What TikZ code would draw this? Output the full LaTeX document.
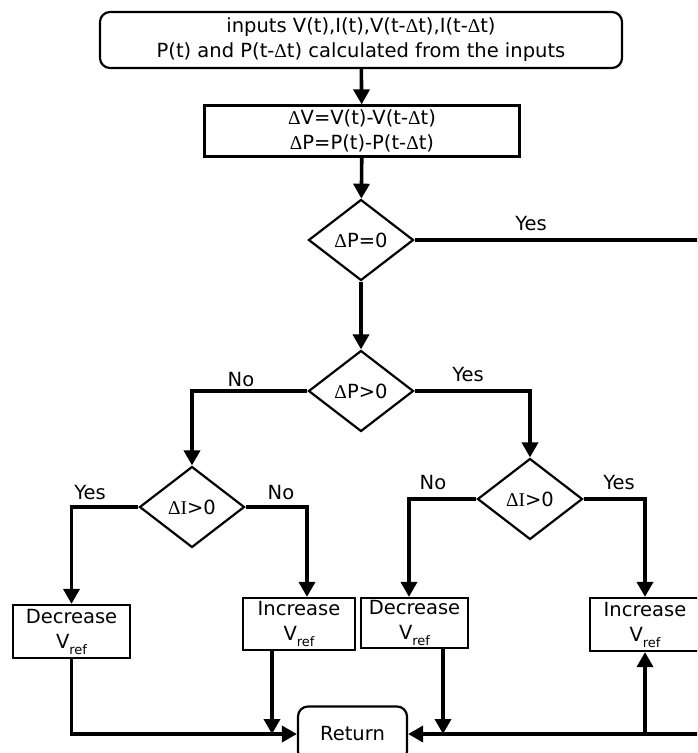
\documentclass[tikz,border=0pt]{standalone}
\usepackage{fontspec}
\setmainfont{DejaVu Sans}
\newfontfamily\seriffam{Liberation Serif}
\usetikzlibrary{shapes.geometric,arrows.meta}
\newcommand\Dlt{{\seriffam Δ}}
\newcommand\Vrefx{V\raisebox{-6pt}{\fontsize{13}{13}\selectfont ref}}
\begin{document}
\begin{tikzpicture}[x=1pt,y=-1pt,
  txt/.style={font=\fontsize{19.5}{25}\selectfont},
  box/.style={draw, line width=2.2pt, inner sep=0pt, align=center, txt},
  dia/.style={draw, diamond, line width=2.2pt, inner sep=0pt, minimum width=105pt, minimum height=81pt, txt},
  flow/.style={line width=3.6pt, -{Triangle[width=16pt,length=15pt]}},
  plain/.style={line width=3.6pt},
  lbl/.style={txt, inner sep=0pt}]
\useasboundingbox (0,0) rectangle (697,753);
\clip (0,0) rectangle (697,753);
\node[box, rounded corners=10pt, minimum width=522pt, minimum height=56pt] (in) at (361,40)
  {inputs V(t),I(t),V(t-\Dlt t),I(t-\Dlt t)\\P(t) and P(t-\Dlt t) calculated from the inputs};
\node[box, minimum width=315pt, minimum height=51pt] (calc) at (362,131)
  {\Dlt V=V(t)-V(t-\Dlt t)\\\Dlt P=P(t)-P(t-\Dlt t)};
\node[dia] (d1) at (361,240) {\Dlt P=0};
\node[dia] (d2) at (361,391) {\Dlt P>0};
\node[dia] (d3) at (192,507) {{\seriffam ΔI}>0};
\node[dia] (d4) at (530,499) {{\seriffam ΔI}>0};
\node[box, minimum width=117pt, minimum height=53pt] (decL) at (71.5,631.5) {Decrease\\\Vrefx};
\node[box, minimum width=112pt, minimum height=52pt] (incL) at (299,624) {Increase\\\Vrefx};
\node[box, minimum width=107pt, minimum height=50pt] (decR) at (414.5,623) {Decrease\\\Vrefx};
\node[box, minimum width=110pt, minimum height=53pt] (incR) at (645,624.5) {Increase\\\Vrefx};
\node[box, rounded corners=10pt, minimum width=109pt, minimum height=55pt] (ret) at (352.5,734) {Return};
% coordinates
\coordinate (e1) at (700,240);
\coordinate (e2) at (700,734);
\coordinate (ca) at (307,0);
\coordinate (cb) at (409,0);
\coordinate (xa) at (272,734);
\coordinate (xb) at (443,734);
\coordinate (xc) at (645,734);
% connectors
\draw[flow] (in) -- (calc);
\draw[flow] (calc) -- (d1);
\draw[flow] (d1) -- (d2);
\draw[plain] (d1.east) -- (e1);
\draw[flow] (d2.east) -| (d4.north);
\draw[flow] (d2.west) -| (d3.north);
\draw[flow] (d3.west) -| (decL.north);
\draw[flow] (d3.east) -| (incL.north -| ca);
\draw[flow] (d4.west) -| (decR.north -| cb);
\draw[flow] (d4.east) -| (incR.north);
\draw[flow] (decL.south) |- (ret.west);
\draw[flow] (incL.south -| xa) -- (xa);
\draw[flow] (decR.south -| xb) -- (xb);
\draw[flow] (e2) -- (ret.east);
\draw[flow] (xc) -- (incR.south);
% labels
\node[lbl] (l1) at (531,224) {Yes};
\node[lbl] (l2) at (468,375) {Yes};
\node[lbl] (l3) at (241,380) {No};
\node[lbl] (l4) at (90,493) {Yes};
\node[lbl] (l5) at (281,493) {No};
\node[lbl] (l6) at (433,483) {No};
\node[lbl] (l7) at (619,483) {Yes};
\end{tikzpicture}
\end{document}
